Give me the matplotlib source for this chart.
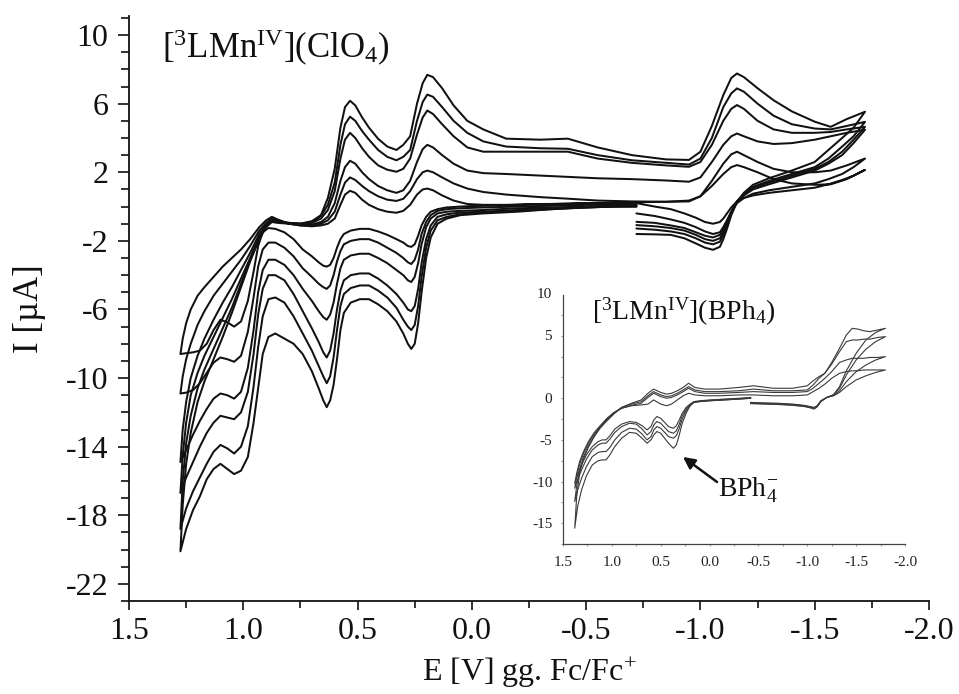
import matplotlib
matplotlib.use("Agg")
import matplotlib.pyplot as plt
from matplotlib.ticker import FixedLocator, FixedFormatter, MultipleLocator, NullFormatter
import matplotlib.transforms as mtransforms

plt.rcParams['font.family'] = ['Liberation Serif', 'DejaVu Serif']
plt.rcParams['mathtext.fontset'] = 'custom'
plt.rcParams['mathtext.rm'] = 'Liberation Serif'
plt.rcParams['mathtext.it'] = 'Liberation Serif:italic'
plt.rcParams['mathtext.bf'] = 'Liberation Serif:bold'
plt.rcParams['axes.unicode_minus'] = False

# ---------------- main voltammograms, [3LMn(IV)](ClO4), six scan rates ----------------
# cathodic start segment: -0.72 V -> -1.72 V
e_fwd = [-0.72, -0.8, -0.87, -0.93, -0.98, -1.02, -1.055, -1.085, -1.1, -1.116, -1.135,
         -1.16, -1.19, -1.23, -1.3, -1.4, -1.5, -1.56, -1.62, -1.67, -1.72]
i_fwd_1 = [0.2, 0.0, -0.15, -0.4, -0.65, -0.9, -1.0, -0.9, -0.7, -0.4, -0.05, 0.3, 0.5, 0.65, 0.8, 0.95, 1.1, 1.3, 1.55, 1.8, 2.14]
i_fwd_2 = [-0.4, -0.55, -0.75, -0.95, -1.2, -1.45, -1.6, -1.5, -1.2, -0.8, -0.3, 0.2, 0.5, 0.75, 0.95, 1.15, 1.35, 1.6, 1.9, 2.3, 2.8]
i_fwd_3 = [-0.89, -0.95, -1.1, -1.25, -1.5, -1.7, -1.8, -1.65, -1.35, -0.9, -0.3, 0.3, 0.65, 1.0, 1.3, 1.7, 2.1, 2.5, 3.0, 3.7, 4.48]
i_fwd_4 = [-1.08, -1.15, -1.25, -1.4, -1.65, -1.9, -2.0, -1.85, -1.5, -1.0, -0.35, 0.3, 0.7, 1.1, 1.4, 1.8, 2.2, 2.6, 3.2, 3.9, 4.65]
i_fwd_5 = [-1.28, -1.35, -1.45, -1.6, -1.85, -2.1, -2.2, -2.05, -1.65, -1.1, -0.4, 0.3, 0.75, 1.15, 1.5, 1.9, 2.3, 2.8, 3.5, 4.1, 4.94]
i_fwd_6 = [-1.6, -1.62, -1.65, -1.85, -2.15, -2.4, -2.52, -2.35, -1.9, -1.3, -0.5, 0.28, 0.8, 1.27, 1.65, 2.1, 2.6, 3.3, 4.0, 4.6, 5.53]

# upper branch, listed from the anodic vertex (1.275 V) to the cathodic vertex (-1.72 V)
e_up = [1.275, 1.265, 1.25, 1.23, 1.2, 1.17, 1.13, 1.09, 1.05, 1.01,
        0.97, 0.93, 0.9, 0.875, 0.85, 0.8, 0.75, 0.7, 0.66, 0.63,
        0.6, 0.575, 0.555, 0.533, 0.51, 0.48, 0.45, 0.41, 0.37, 0.33,
        0.3, 0.27, 0.24, 0.215, 0.195, 0.17, 0.13, 0.08, 0.02, -0.05,
        -0.15, -0.3, -0.42, -0.55, -0.7, -0.85, -0.95, -1.0, -1.05, -1.1,
        -1.135, -1.16, -1.19, -1.25, -1.32, -1.4, -1.5, -1.57, -1.64, -1.72]
i_up_1 = [-8.6, -7.7, -6.8, -6.0, -5.2, -4.7, -4.1, -3.5, -3.0, -2.5,
          -1.9, -1.2, -0.8, -0.6, -0.75, -1.0, -1.1, -1.15, -1.1, -1.0,
          -0.7, 0.1, 0.7, 0.92, 0.8, 0.4, 0.1, -0.15, -0.3, -0.36,
          -0.25, 0.1, 0.7, 1.0, 1.05, 0.95, 0.65, 0.35, 0.15, 0.1,
          0.1, 0.15, 0.16, 0.2, 0.25, 0.28, 0.35, 0.6, 1.2, 1.9,
          2.3, 2.42, 2.3, 2.0, 1.6, 1.35, 1.27, 1.3, 1.6, 2.14]
i_up_2 = [-10.9, -9.9, -8.9, -8.0, -6.9, -6.1, -5.2, -4.5, -3.8, -3.1,
          -2.3, -1.4, -0.95, -0.7, -0.8, -1.0, -1.1, -1.1, -1.0, -0.8,
          -0.3, 0.7, 1.4, 1.70, 1.55, 1.2, 0.9, 0.6, 0.4, 0.33,
          0.45, 0.9, 1.6, 2.0, 2.1, 2.0, 1.7, 1.35, 1.05, 0.85,
          0.7, 0.55, 0.46, 0.35, 0.3, 0.28, 0.3, 0.6, 1.5, 2.5,
          3.05, 3.2, 3.0, 2.6, 2.2, 2.0, 2.0, 2.1, 2.4, 2.8]
i_up_3 = [-14.9, -13.0, -11.4, -10.0, -8.7, -7.7, -6.6, -5.6, -4.7, -3.7,
          -2.7, -1.6, -1.05, -0.75, -0.85, -1.0, -1.05, -1.05, -0.9, -0.6,
          0.2, 1.5, 2.3, 2.67, 2.5, 2.0, 1.6, 1.2, 0.95, 0.8,
          0.95, 1.5, 2.6, 3.35, 3.6, 3.45, 3.0, 2.5, 2.1, 1.95,
          1.9, 1.8, 1.73, 1.65, 1.6, 1.52, 1.45, 1.7, 2.6, 3.6,
          4.1, 4.26, 4.1, 3.8, 3.65, 3.7, 3.9, 4.1, 4.3, 4.48]
i_up_4 = [-16.7, -14.5, -12.6, -11.0, -9.7, -8.7, -7.6, -6.5, -5.4, -4.2,
          -3.0, -1.75, -1.1, -0.8, -0.85, -0.95, -1.0, -0.95, -0.7, -0.2,
          0.9, 2.8, 3.9, 4.30, 4.0, 3.4, 2.9, 2.4, 2.15, 2.03,
          2.2, 2.8, 4.2, 5.2, 5.6, 5.4, 4.8, 4.1, 3.45, 3.2,
          3.2, 3.2, 3.2, 2.8, 2.55, 2.4, 2.32, 2.6, 3.6, 5.0,
          5.7, 5.92, 5.7, 5.0, 4.5, 4.3, 4.3, 4.35, 4.5, 4.65]
i_up_5 = [-18.8, -16.0, -13.8, -12.2, -10.6, -9.5, -8.3, -7.1, -5.9, -4.5,
          -3.1, -1.85, -1.15, -0.85, -0.9, -0.95, -1.0, -0.9, -0.55, 0.1,
          1.4, 3.6, 4.8, 5.24, 5.0, 4.4, 3.9, 3.3, 2.9, 2.7,
          2.9, 3.3, 5.0, 6.1, 6.53, 6.4, 5.8, 5.0, 4.3, 3.8,
          3.5, 3.4, 3.37, 3.0, 2.7, 2.55, 2.45, 2.8, 4.0, 5.8,
          6.6, 6.89, 6.7, 6.0, 5.3, 4.8, 4.55, 4.5, 4.7, 4.94]
i_up_6 = [-20.1, -17.4, -15.0, -13.2, -11.4, -10.2, -8.9, -7.6, -6.2, -4.7,
          -3.2, -1.9, -1.2, -0.9, -0.95, -1.0, -1.0, -0.85, -0.5, 0.5,
          2.2, 4.6, 5.8, 6.17, 5.9, 5.2, 4.6, 3.95, 3.5, 3.3,
          3.6, 4.1, 6.0, 7.2, 7.68, 7.55, 6.9, 5.9, 5.0, 4.5,
          3.96, 3.9, 3.96, 3.45, 3.0, 2.75, 2.72, 3.2, 4.7, 6.5,
          7.5, 7.76, 7.55, 6.9, 6.2, 5.55, 4.95, 4.65, 5.1, 5.53]

# lower branch: anodic vertex (1.275 V) back to -0.72 V
e_low = [1.275, 1.25, 1.22, 1.19, 1.16, 1.13, 1.10, 1.07, 1.04, 1.01,
         0.98, 0.955, 0.935, 0.915, 0.89, 0.86, 0.82, 0.78, 0.74, 0.70,
         0.67, 0.65, 0.635, 0.62, 0.605, 0.59, 0.575, 0.56, 0.53, 0.49,
         0.45, 0.41, 0.37, 0.33, 0.30, 0.28, 0.265, 0.25, 0.235, 0.22,
         0.2, 0.18, 0.15, 0.11, 0.05, -0.05, -0.2, -0.35, -0.5, -0.62, -0.72]
i_low_1 = [-8.6, -8.55, -8.5, -8.4, -8.0, -7.2, -6.6, -6.75, -7.0, -6.7,
           -5.5, -3.8, -2.3, -1.5, -1.25, -1.3, -1.5, -1.9, -2.5, -2.9,
           -3.25, -3.45, -3.5, -3.4, -3.0, -2.4, -1.9, -1.6, -1.4, -1.3,
           -1.3, -1.45, -1.65, -1.9, -2.1, -2.3, -2.35, -2.2, -1.7, -1.1,
           -0.6, -0.3, -0.15, -0.05, 0.0, 0.05, 0.1, 0.15, 0.2, 0.2, 0.2]
i_low_2 = [-10.9, -10.85, -10.7, -10.3, -9.7, -9.1, -8.8, -8.9, -9.05, -8.7,
           -7.3, -5.3, -3.5, -2.5, -2.1, -2.1, -2.4, -2.9, -3.6, -4.1,
           -4.5, -4.7, -4.8, -4.6, -4.0, -3.2, -2.6, -2.2, -2.0, -1.9,
           -1.9, -2.1, -2.4, -2.7, -3.0, -3.25, -3.35, -3.1, -2.5, -1.6,
           -0.9, -0.5, -0.25, -0.15, -0.1, -0.05, 0.0, 0.05, 0.1, 0.1, 0.1]
i_low_3 = [-14.9, -14.2, -13.3, -12.5, -11.8, -11.2, -10.9, -11.0, -11.2, -10.8,
           -9.4, -7.2, -5.0, -3.7, -3.1, -3.1, -3.4, -4.0, -4.8, -5.5,
           -6.1, -6.45, -6.6, -6.3, -5.6, -4.5, -3.6, -3.1, -2.85, -2.75,
           -2.75, -3.0, -3.3, -3.7, -4.0, -4.3, -4.4, -4.1, -3.3, -2.2,
           -1.2, -0.7, -0.4, -0.3, -0.25, -0.2, -0.1, -0.05, 0.0, 0.05, 0.05]
i_low_4 = [-16.7, -15.8, -14.9, -14.0, -13.2, -12.6, -12.2, -12.3, -12.4, -12.0,
           -10.8, -8.6, -6.3, -4.8, -4.0, -4.0, -4.3, -5.1, -6.1, -7.1,
           -7.9, -8.5, -8.8, -8.4, -7.4, -6.0, -4.9, -4.3, -4.0, -3.9,
           -3.9, -4.2, -4.6, -5.1, -5.6, -6.0, -6.1, -5.8, -4.8, -3.3,
           -1.9, -1.1, -0.6, -0.45, -0.35, -0.3, -0.2, -0.1, -0.05, 0.0, 0.0]
i_low_5 = [-18.8, -17.6, -16.6, -15.8, -15.0, -14.3, -13.9, -14.1, -14.4, -14.0,
           -12.8, -10.5, -8.2, -6.4, -5.4, -5.3, -5.6, -6.4, -7.4, -8.4,
           -9.3, -9.9, -10.3, -9.9, -8.8, -7.2, -5.8, -5.1, -4.75, -4.6,
           -4.6, -4.9, -5.3, -5.9, -6.6, -7.0, -7.2, -6.9, -5.8, -4.1,
           -2.4, -1.4, -0.8, -0.6, -0.45, -0.35, -0.25, -0.15, -0.05, 0.0, 0.0]
i_low_6 = [-20.1, -18.8, -17.7, -16.9, -15.9, -15.3, -15.0, -15.3, -15.6, -15.4,
           -14.6, -12.6, -10.6, -8.6, -7.6, -7.4, -7.7, -8.0, -8.6, -9.6,
           -10.6, -11.3, -11.7, -11.3, -10.4, -8.9, -7.2, -6.2, -5.6, -5.4,
           -5.4, -5.7, -6.1, -6.7, -7.4, -8.0, -8.3, -8.0, -6.8, -5.0,
           -3.0, -1.8, -1.0, -0.7, -0.5, -0.4, -0.3, -0.15, -0.05, 0.0, 0.05]

# ---------------- inset, [3LMn(IV)](BPh4), four scan rates ----------------
e_ifwd = [-0.42, -0.55, -0.7, -0.85, -0.97, -1.03, -1.07, -1.1, -1.14, -1.2, -1.27,
          -1.33, -1.4, -1.5, -1.6, -1.7, -1.8]
i_ifwd_a = [-0.5, -0.55, -0.6, -0.7, -0.85, -1.0, -1.1, -0.9, -0.3, 0.1, 0.3, 0.7, 1.4, 2.2, 2.7, 3.1, 3.4]
i_ifwd_b = [-0.55, -0.6, -0.65, -0.75, -0.9, -1.05, -1.15, -0.95, -0.3, 0.1, 0.35, 0.9, 2.0, 3.2, 4.0, 4.6, 5.0]
i_ifwd_c = [-0.6, -0.65, -0.7, -0.8, -0.95, -1.1, -1.2, -1.0, -0.35, 0.1, 0.4, 1.2, 2.8, 4.6, 5.9, 6.8, 7.4]
i_ifwd_d = [-0.65, -0.7, -0.75, -0.85, -1.0, -1.15, -1.3, -1.05, -0.4, 0.1, 0.45, 1.4, 3.3, 5.4, 7.0, 7.9, 8.4]

e_iup = [-1.8, -1.72, -1.64, -1.58, -1.52, -1.46, -1.4, -1.33, -1.25, -1.18,
         -1.12, -1.06, -1.0, -0.85, -0.65, -0.45, -0.3, -0.1, 0.05, 0.15,
         0.215, 0.27, 0.33, 0.39, 0.44, 0.5, 0.573, 0.63, 0.7, 0.8,
         0.9, 0.98, 1.05, 1.12, 1.18, 1.24, 1.29, 1.33, 1.36, 1.38]
i_iup_a = [3.4, 3.4, 3.4, 3.4, 3.3, 3.3, 3.2, 3.0, 2.4, 1.7,
           1.2, 0.8, 0.4, 0.3, 0.3, 0.4, 0.4, 0.3, 0.3, 0.4,
           0.6, 0.3, -0.2, -0.7, -0.9, -0.7, -0.2, -0.7, -0.8, -0.9,
           -1.2, -1.7, -2.4, -3.3, -4.1, -5.2, -6.4, -7.6, -9.0, -10.2]
i_iup_b = [5.0, 4.9, 4.9, 4.8, 4.8, 4.8, 4.6, 4.3, 3.2, 2.4,
           1.8, 1.2, 0.8, 0.7, 0.7, 0.8, 0.7, 0.6, 0.6, 0.8,
           1.2, 0.8, 0.4, 0.1, 0.0, 0.2, 0.6, 0.1, -0.6, -0.85,
           -1.2, -1.8, -2.5, -3.4, -4.3, -5.4, -6.6, -7.9, -9.4, -10.8]
i_iup_c = [7.4, 7.3, 7.1, 7.1, 7.0, 7.0, 6.8, 5.6, 4.1, 3.0,
           2.4, 1.6, 1.0, 0.9, 0.9, 1.1, 0.9, 0.8, 0.8, 1.0,
           1.4, 1.0, 0.6, 0.3, 0.2, 0.4, 0.8, 0.3, -0.4, -0.7,
           -1.1, -1.8, -2.6, -3.5, -4.5, -5.7, -7.0, -8.5, -10.5, -12.4]
i_iup_d = [8.4, 8.2, 8.0, 8.1, 8.3, 8.4, 7.6, 6.0, 4.3, 3.0,
           2.6, 2.1, 1.5, 1.2, 1.2, 1.5, 1.3, 1.1, 1.1, 1.3,
           1.8, 1.3, 0.9, 0.6, 0.5, 0.7, 1.1, 0.6, -0.2, -0.6,
           -1.1, -1.9, -2.7, -3.6, -4.6, -5.9, -7.3, -9.0, -11.8, -15.6]

e_ilow = [1.38, 1.35, 1.31, 1.26, 1.2, 1.14, 1.1, 1.06, 1.02, 0.97,
          0.9, 0.82, 0.75, 0.69, 0.64, 0.6, 0.57, 0.54, 0.5, 0.46,
          0.42, 0.37, 0.34, 0.31, 0.28, 0.24, 0.2, 0.16, 0.1, 0.0,
          -0.15, -0.3, -0.42]
i_ilow_a = [-10.2, -9.2, -8.0, -6.8, -5.8, -5.2, -5.0, -5.0, -4.5, -3.7,
            -3.1, -2.8, -2.9, -3.3, -3.8, -3.4, -2.6, -2.2, -2.4, -2.9,
            -3.4, -3.6, -3.3, -2.6, -1.8, -1.1, -0.7, -0.4, -0.3, -0.2,
            -0.1, 0.0, 0.1]
i_ilow_b = [-10.8, -9.8, -8.6, -7.3, -6.2, -5.6, -5.4, -5.4, -4.9, -4.1,
            -3.4, -3.0, -3.1, -3.7, -4.4, -4.0, -3.2, -2.8, -3.0, -3.5,
            -4.0, -4.2, -3.9, -3.1, -2.1, -1.3, -0.8, -0.45, -0.35, -0.25,
            -0.15, -0.05, 0.05]
i_ilow_c = [-12.4, -11.0, -9.6, -8.2, -7.0, -6.5, -6.4, -6.4, -5.9, -5.0,
            -4.1, -3.6, -3.7, -4.3, -5.0, -4.6, -3.8, -3.4, -3.6, -4.1,
            -4.6, -4.8, -4.5, -3.6, -2.5, -1.5, -0.9, -0.5, -0.4, -0.3,
            -0.2, -0.1, 0.0]
i_ilow_d = [-15.6, -13.0, -11.0, -9.3, -8.0, -7.5, -7.4, -7.4, -6.8, -5.8,
            -4.8, -4.1, -4.2, -4.8, -5.4, -5.0, -4.4, -4.0, -4.2, -4.8,
            -5.4, -6.0, -5.6, -4.4, -3.0, -1.8, -0.9, -0.5, -0.4, -0.3,
            -0.2, -0.1, 0.0]

# axis ticks
main_xticks = [1.5, 1.0, 0.5, 0.0, -0.5, -1.0, -1.5, -2.0]
main_xlabels = ['1.5', '1.0', '0.5', '0.0', '-0.5', '-1.0', '-1.5', '-2.0']
main_yticks = [10, 6, 2, -2, -6, -10, -14, -18, -22]
main_ylabels = ['10', '6', '2', '-2', '-6', '-10', '-14', '-18', '-22']
inset_yticks = [-15, -10, -5, 0]
inset_ylabels = ['-15', '-10', '-5', '0']
inset_upper_ticks = [5, 10]
inset_upper_labels = ['5', '10']


def closed_cycle(e_a, i_a, e_b, i_b, e_c, i_c):
    return list(e_a) + list(e_b) + list(e_c), list(i_a) + list(i_b) + list(i_c)


fig = plt.figure(figsize=(9.59, 6.94), dpi=100)
W, H = 959.0, 694.0

# ---------------- main axes ----------------
ax = fig.add_axes([129 / W, 1 - 601 / H, 800 / W, (601 - 15.7) / H])
main_fwd = [i_fwd_1, i_fwd_2, i_fwd_3, i_fwd_4, i_fwd_5, i_fwd_6]
main_up = [i_up_1, i_up_2, i_up_3, i_up_4, i_up_5, i_up_6]
main_low = [i_low_1, i_low_2, i_low_3, i_low_4, i_low_5, i_low_6]
for f, u, l in zip(main_fwd, main_up, main_low):
    e, i = closed_cycle(e_fwd, f, e_up[::-1], u[::-1], e_low, l)
    ax.plot(e, i, color='#111111', lw=1.45, solid_joinstyle='round', solid_capstyle='round')

ax.set_xlim(1.5, -2.0)
ax.set_ylim(-23.0, 11.13)
for side in ('top', 'right'):
    ax.spines[side].set_visible(False)
for side in ('left', 'bottom'):
    ax.spines[side].set_linewidth(1.3)
    ax.spines[side].set_color('#111111')

ax.xaxis.set_major_locator(FixedLocator(main_xticks))
ax.xaxis.set_major_formatter(FixedFormatter(main_xlabels))
ax.xaxis.set_minor_locator(MultipleLocator(0.25))
ax.yaxis.set_major_locator(FixedLocator(main_yticks))
ax.yaxis.set_major_formatter(FixedFormatter(main_ylabels))
ax.yaxis.set_minor_locator(MultipleLocator(1))
ax.tick_params(axis='both', which='both', direction='out', color='#111111', width=1.2,
               labelsize=23, labelcolor='#111111')
ax.tick_params(axis='x', which='major', length=6.5, pad=5)
ax.tick_params(axis='x', which='minor', length=5)
ax.tick_params(axis='y', which='major', length=8, pad=7)
ax.tick_params(axis='y', which='minor', length=5.5)

ax.set_xlabel('E [V] gg. Fc/Fc$^{+}$', fontsize=23, color='#111111', labelpad=7)
ax.set_ylabel('I [\u00b5A]', fontsize=25, color='#111111', labelpad=14)

ax.text(0.041, 0.928, r'[$^{3}$LMn$^{\mathrm{IV}}$](ClO$_{4}$)', transform=ax.transAxes,
        fontsize=25, color='#111111', ha='left', va='baseline')

# ---------------- inset ----------------
axi = fig.add_axes([563 / W, 1 - 544 / H, 342 / W, (544 - 295) / H])
axi.set_facecolor('none')
inset_fwd = [i_ifwd_a, i_ifwd_b, i_ifwd_c, i_ifwd_d]
inset_up = [i_iup_a, i_iup_b, i_iup_c, i_iup_d]
inset_low = [i_ilow_a, i_ilow_b, i_ilow_c, i_ilow_d]
for f, u, l in zip(inset_fwd, inset_up, inset_low):
    e, i = closed_cycle(e_ifwd, f, e_iup, u, e_ilow, l)
    axi.plot(e, i, color='#3a3a3a', lw=0.8, solid_joinstyle='round')

axi.set_xlim(1.5, -2.0)
axi.set_ylim(-17.5, 12.4)
for side in ('top', 'right'):
    axi.spines[side].set_visible(False)
for side in ('left', 'bottom'):
    axi.spines[side].set_linewidth(0.9)
    axi.spines[side].set_color('#444444')

axi.xaxis.set_major_locator(FixedLocator(main_xticks))
axi.xaxis.set_major_formatter(FixedFormatter(main_xlabels))
axi.xaxis.set_minor_locator(MultipleLocator(0.25))
axi.yaxis.set_major_locator(FixedLocator(inset_yticks))
axi.yaxis.set_major_formatter(FixedFormatter(inset_ylabels))
axi.yaxis.set_minor_locator(MultipleLocator(2.5))
axi.yaxis.set_minor_formatter(NullFormatter())
axi.tick_params(axis='both', which='both', direction='out', length=1.6, width=0.8,
                color='#999999', labelsize=11, labelcolor='#222222')
axi.tick_params(axis='x', which='both', pad=7)
axi.tick_params(axis='y', which='both', pad=6)

# labels of the two upper ticks sit a little above their tick marks
lab_tr = mtransforms.blended_transform_factory(axi.transAxes, axi.transData)
for val, txt in zip(inset_upper_ticks, inset_upper_labels):
    axi.annotate(txt, xy=(0, val), xycoords=lab_tr, xytext=(-8.3, 14.5),
                 textcoords='offset points', fontsize=11, color='#222222',
                 ha='right', va='center')

axi.text(1.2, 9.4, r'[$^{3}$LMn$^{\mathrm{IV}}$](BPh$_{4}$)', fontsize=20,
         color='#111111', ha='left', va='baseline')

axi.annotate('', xy=(0.272, -7.05), xytext=(-0.076, -10.05),
             arrowprops=dict(arrowstyle='-|>,head_length=0.7,head_width=0.35',
                             color='#111111', lw=1.8, shrinkA=0, shrinkB=0))
axi.text(-0.09, -11.8, 'BPh$_{4}^{-}$', fontsize=20, color='#111111',
         ha='left', va='baseline')

fig.savefig('out.png', dpi=100)
